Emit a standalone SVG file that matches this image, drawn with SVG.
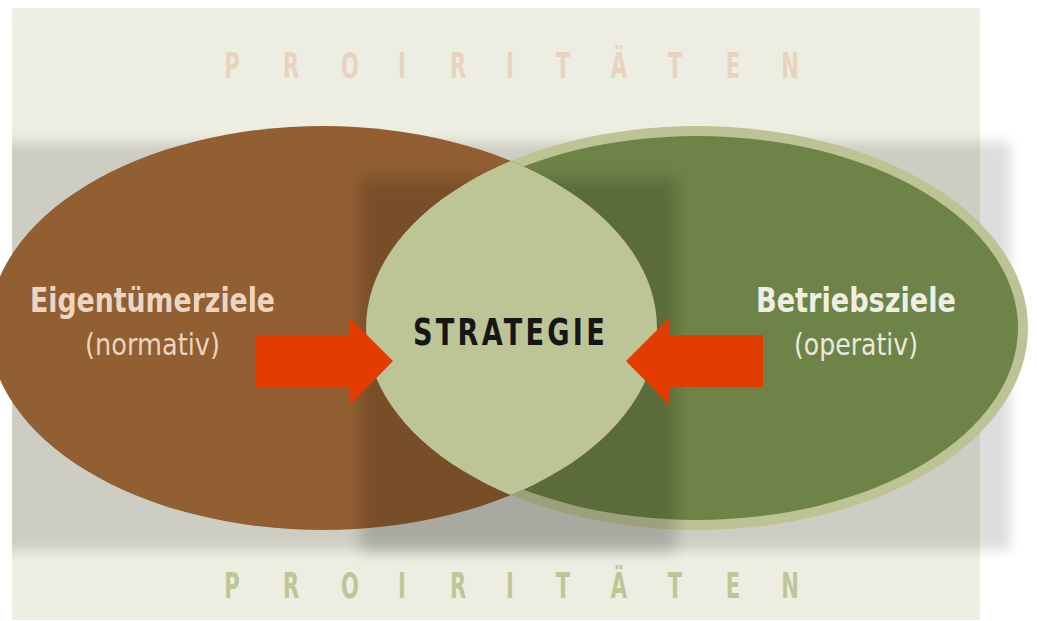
<svg xmlns="http://www.w3.org/2000/svg" width="1037" height="621" viewBox="0 0 1037 621">
<defs>
<style>
.t{font-family:"DejaVu Sans Condensed","DejaVu Sans","Liberation Sans",sans-serif;font-stretch:condensed}
.b{font-weight:bold}
.prio{font-size:36px;font-weight:bold;text-anchor:middle}
.lbl{text-anchor:middle}
.arrow{fill:#E23C00}
</style>
<filter id="blurBand" x="-5%" y="-10%" width="110%" height="120%"><feGaussianBlur stdDeviation="6"/></filter>
<filter id="blurShadow" x="-20%" y="-20%" width="140%" height="140%"><feGaussianBlur stdDeviation="8"/></filter>
<clipPath id="clipL"><rect x="12" y="0" width="1025" height="621"/></clipPath>
<clipPath id="clipBrown"><ellipse cx="323" cy="328" rx="334" ry="202"/></clipPath>
</defs>

<g id="background">
<rect x="12" y="8" width="968" height="612" fill="#EDEDE1"/>
<g clip-path="url(#clipL)">
<rect x="0" y="142" width="1010" height="408" fill="#000" opacity="0.13" filter="url(#blurBand)"/>
</g>
<text class="t prio" fill="#E8D3C0" transform="scale(0.65,1)" y="78" x="356.9 447.7 538.5 618.5 704.6 784.6 866.2 952.3 1038.5 1127.7 1215.4">PROIRITÄTEN</text>
<text class="t prio" fill="#BEC697" transform="scale(0.65,1)" y="598" x="356.9 447.7 538.5 618.5 704.6 784.6 866.2 952.3 1038.5 1127.7 1215.4">PROIRITÄTEN</text>
</g>

<g id="node-betriebsziele">
<ellipse cx="697" cy="328" rx="331" ry="202" fill="#BCC394"/>
<ellipse cx="697" cy="328" rx="321" ry="192" fill="#6E8347"/>
<text class="t b lbl" x="856" y="312" font-size="34" fill="#EEEEE2" textLength="200" lengthAdjust="spacingAndGlyphs">Betriebsziele</text>
<text class="t lbl" x="856" y="355" font-size="31" fill="#E9E9DC" textLength="124" lengthAdjust="spacingAndGlyphs">(operativ)</text>
</g>

<g id="node-eigentuemerziele">
<ellipse cx="323" cy="328" rx="334" ry="202" fill="#915F32"/>
<text class="t b lbl" x="152.5" y="312" font-size="34" fill="#EDD5C1" textLength="245" lengthAdjust="spacingAndGlyphs">Eigentümerziele</text>
<text class="t lbl" x="152.5" y="355" font-size="31" fill="#EBD4C0" textLength="135" lengthAdjust="spacingAndGlyphs">(normativ)</text>
</g>

<g id="shadow">
<rect x="360" y="178" width="316" height="374" fill="#000" opacity="0.17" filter="url(#blurShadow)"/>
</g>

<g id="node-strategie">
<ellipse cx="697" cy="328" rx="331" ry="202" fill="#BDC495" clip-path="url(#clipBrown)"/>
<text class="t b lbl" x="510.5" y="345" font-size="37" fill="#161616" letter-spacing="4" textLength="195" lengthAdjust="spacingAndGlyphs">STRATEGIE</text>
</g>

<g id="connectors">
<polygon class="arrow" points="256,335 350,335 350,318 393,361 350,405 350,387 256,387"/>
<polygon class="arrow" points="763,335 669,335 669,318 626,361 669,405 669,387 763,387"/>
</g>
</svg>
